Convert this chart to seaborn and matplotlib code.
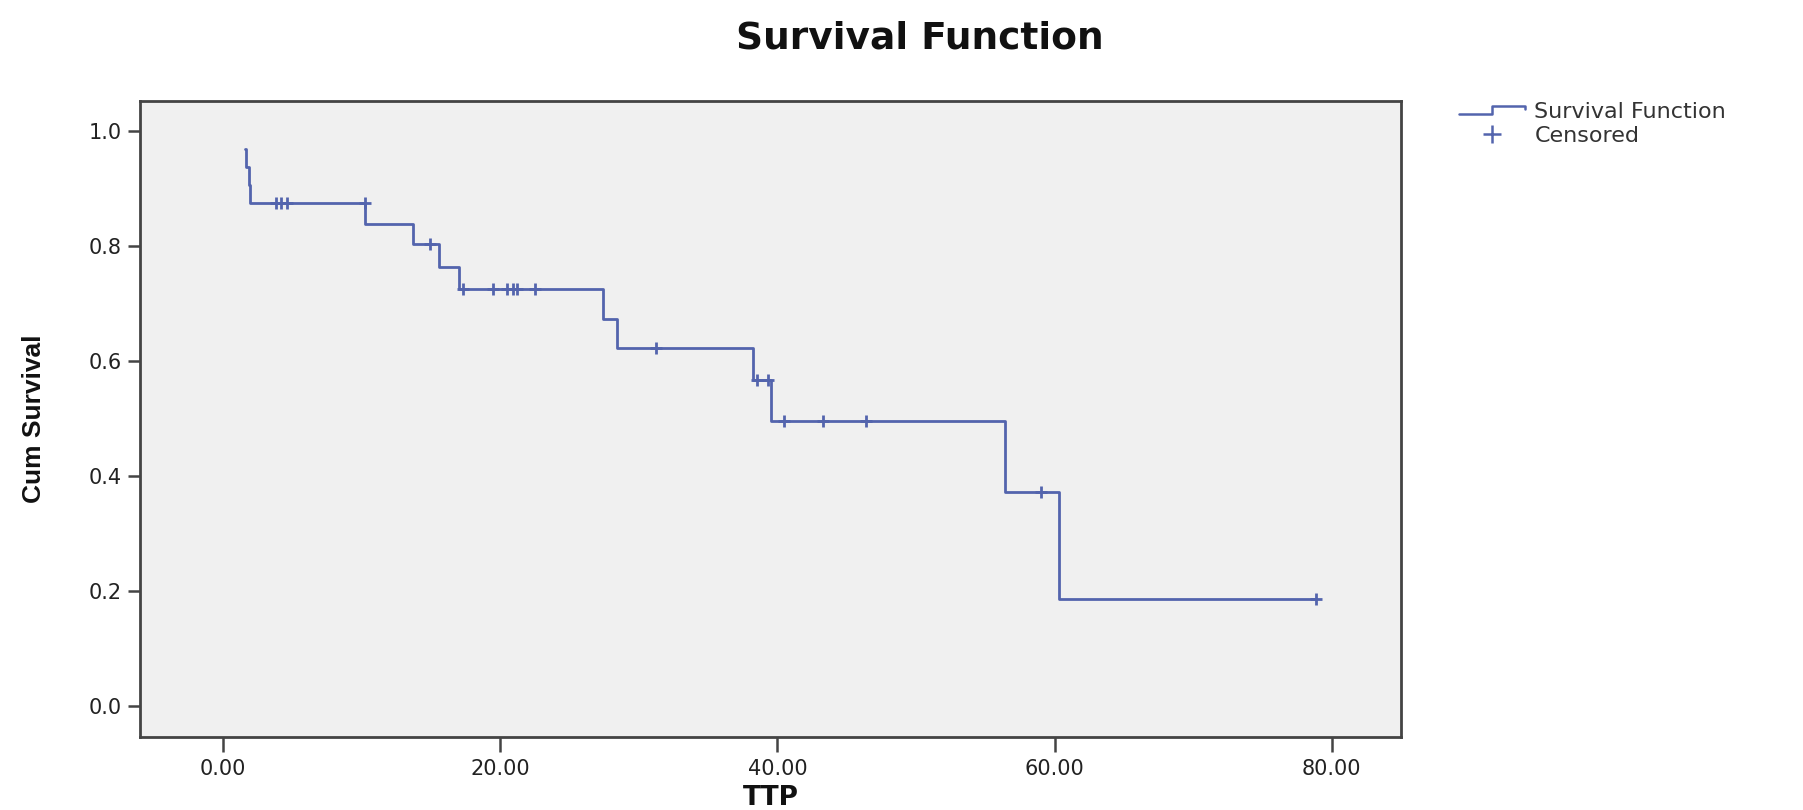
import numpy as np
import pandas as pd
import matplotlib
matplotlib.use('Agg')
import matplotlib.pyplot as plt
import seaborn as sb
from matplotlib.lines import Line2D
from matplotlib.legend_handler import HandlerBase

# step points of the survival curve (time, cum survival after the event)
event_times = [1.58, 1.62, 1.83, 1.93, 10.2, 13.7, 15.6, 17.0, 27.4, 28.4, 38.2, 39.5, 56.4, 60.3, 78.9]
event_surv = [0.969, 0.938, 0.906, 0.875, 0.838, 0.803, 0.764, 0.725, 0.673, 0.623, 0.568, 0.496, 0.373, 0.187, 0.187]

# censored cases
censor_times = [3.8, 4.2, 4.6, 10.2, 14.9, 17.3, 19.5, 20.5, 20.9, 21.2, 22.5,
                31.2, 38.5, 39.3, 40.5, 43.3, 46.4, 59.0, 78.9]
censor_surv = [0.875, 0.875, 0.875, 0.875, 0.803, 0.725, 0.725, 0.725, 0.725, 0.725, 0.725,
               0.623, 0.568, 0.568, 0.496, 0.496, 0.496, 0.373, 0.187]

x_ticks = [0, 20, 40, 60, 80]
y_ticks = [0.0, 0.2, 0.4, 0.6, 0.8, 1.0]

line_color = '#5364ad'
frame_color = '#444444'


class StepHandler(HandlerBase):
    # legend key drawn as a small step, like SPSS does
    def create_artists(self, legend, orig_handle, xdescent, ydescent, width, height, fontsize, trans):
        x0 = -xdescent
        y0 = -ydescent
        xs = [x0, x0 + 0.5 * width, x0 + 0.5 * width, x0 + width, x0 + width]
        ys = [y0 + 0.3 * height, y0 + 0.3 * height, y0 + 0.8 * height, y0 + 0.8 * height, y0 + 0.6 * height]
        ln = Line2D(xs, ys, color=orig_handle.get_color(), linewidth=orig_handle.get_linewidth(), transform=trans)
        return [ln]


sb.set_style('white')
plt.rcParams['font.family'] = ['DejaVu Sans']

curve = pd.DataFrame({'TTP': event_times, 'surv': event_surv})
cens = pd.DataFrame({'TTP': censor_times, 'surv': censor_surv})

fig = plt.figure(figsize=(18.03, 8.10), dpi=100)
ax = fig.add_axes([0.0777, 0.09, 0.777 - 0.0777, 0.875 - 0.09])
ax.set_facecolor('#f0f0f0')

sb.lineplot(data=curve, x='TTP', y='surv', ax=ax, drawstyle='steps-post',
            estimator=None, sort=False, color=line_color, linewidth=2)
sb.scatterplot(data=cens, x='TTP', y='surv', ax=ax, marker='+', s=70,
               color=line_color, linewidth=2, zorder=3)

ax.set_xlim(-6, 85)
ax.set_ylim(-0.054, 1.052)
ax.set_xticks(x_ticks)
ax.set_xticklabels(['%.2f' % v for v in x_ticks])
ax.set_yticks(y_ticks)
ax.set_yticklabels(['%.1f' % v for v in y_ticks])
ax.tick_params(axis='both', direction='out', length=9, width=1.8, color=frame_color,
               labelsize=15, labelcolor='#222222', pad=4, bottom=True, left=True)
ax.tick_params(axis='x', length=11, pad=5)

for s in ax.spines.values():
    s.set_color(frame_color)
    s.set_linewidth(2)
    s.set_visible(True)

ax.set_xlabel('TTP', fontsize=19, fontweight='bold', color='#111111')
ax.xaxis.set_label_coords(0.5, -0.075)
ax.set_ylabel('Cum Survival', fontsize=19, fontweight='bold', color='#111111',
              family=['Liberation Sans Narrow', 'Liberation Sans'])
ax.yaxis.set_label_coords(-0.075, 0.5)

fig.suptitle('Survival Function', x=0.51, y=0.975, fontsize=27, fontweight='bold', color='#111111')

handles = [Line2D([], [], color=line_color, linewidth=1.8),
           Line2D([], [], color=line_color, marker='+', linestyle='None', markersize=13, markeredgewidth=1.8)]
leg = ax.legend(handles, ['Survival Function', 'Censored'], loc='upper left',
                bbox_to_anchor=(1.03, 1.03), frameon=False, fontsize=16,
                handlelength=3.0, handletextpad=0.4, labelspacing=0.15,
                handler_map={handles[0]: StepHandler()})
for t in leg.get_texts():
    t.set_color('#333333')

plt.savefig('out.png', dpi=100)
